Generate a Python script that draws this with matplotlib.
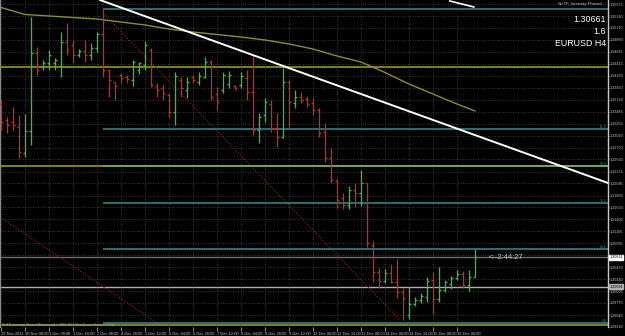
import matplotlib
matplotlib.use("Agg")
import matplotlib.pyplot as plt
import matplotlib.transforms as mtransforms
import numpy as np

plt.rcParams["font.family"] = ["Liberation Sans", "DejaVu Sans"]

# ---------------- data ----------------
time_labels = ["29 Nov 2011", "30 Nov 08:00", "1 Dec 00:00", "1 Dec 16:00", "2 Dec 08:00",
               "4 Dec 20:00", "5 Dec 12:00", "6 Dec 04:00", "6 Dec 20:00", "7 Dec 12:00",
               "8 Dec 04:00", "8 Dec 20:00", "9 Dec 12:00", "12 Dec 00:00", "12 Dec 16:00",
               "13 Dec 08:00", "14 Dec 00:00", "14 Dec 16:00", "15 Dec 08:00", "16 Dec 00:00"]

opens = [1.33635, 1.33325, 1.33286, 1.33189, 1.32685, 1.33112, 1.34625, 1.34353, 1.34431, 1.34431,
         1.34373, 1.34838, 1.34780, 1.34586, 1.34664, 1.34586, 1.34722, 1.34993, 1.34295, 1.34062,
         1.34198, 1.34159, 1.34101, 1.34295, 1.34392, 1.34683, 1.33985, 1.33946, 1.33810, 1.33480,
         1.34101, 1.33907, 1.34159, 1.34062, 1.34159, 1.34450, 1.33829, 1.33907, 1.34023, 1.33985,
         1.34004, 1.34140, 1.33868, 1.33131, 1.33422, 1.33635, 1.33170, 1.32995, 1.34062, 1.33655,
         1.33771, 1.33732, 1.33655, 1.33519, 1.33092, 1.32588, 1.32142, 1.31812, 1.31676, 1.31967,
         1.31909, 1.32103, 1.30900, 1.30377, 1.30202, 1.30357, 1.30182, 1.29988, 1.29542, 1.29756,
         1.29833, 1.29891, 1.30221, 1.29853, 1.30027, 1.30144, 1.30260, 1.30338, 1.30124, 1.30279]
highs = [1.33713, 1.33383, 1.33577, 1.33422, 1.33441, 1.35323, 1.34741, 1.34489, 1.34683, 1.34528,
         1.35032, 1.35207, 1.34877, 1.34702, 1.34877, 1.34819, 1.35032, 1.35478, 1.34295, 1.34062,
         1.34237, 1.34198, 1.34489, 1.34450, 1.34858, 1.34722, 1.34043, 1.34004, 1.33849, 1.34256,
         1.34159, 1.34159, 1.34198, 1.34256, 1.34547, 1.34489, 1.33965, 1.34256, 1.34276, 1.34004,
         1.34256, 1.34295, 1.34567, 1.33461, 1.33752, 1.33713, 1.33461, 1.34334, 1.34101, 1.33907,
         1.33868, 1.33791, 1.33752, 1.33558, 1.33267, 1.32782, 1.32181, 1.31909, 1.32045, 1.32103,
         1.32355, 1.32103, 1.30977, 1.30454, 1.30435, 1.30531, 1.30628, 1.30066, 1.30085, 1.29891,
         1.29969, 1.30279, 1.30377, 1.30473, 1.30221, 1.30299, 1.30415, 1.30396, 1.30415, 1.30822]
lows = [1.33131, 1.33073, 1.33131, 1.32588, 1.32607, 1.32840, 1.34198, 1.34295, 1.34295, 1.34295,
        1.34159, 1.34586, 1.34431, 1.34547, 1.34450, 1.34489, 1.34644, 1.34159, 1.33771, 1.33713,
        1.34043, 1.34043, 1.33985, 1.34217, 1.34295, 1.33965, 1.33771, 1.33713, 1.33383, 1.33228,
        1.33771, 1.33752, 1.34043, 1.34004, 1.34140, 1.33713, 1.33519, 1.33849, 1.33946, 1.33907,
        1.33946, 1.33713, 1.33034, 1.32879, 1.33286, 1.33092, 1.32801, 1.32976, 1.33170, 1.33558,
        1.33655, 1.33577, 1.33422, 1.32995, 1.32510, 1.32103, 1.31618, 1.31599, 1.31599, 1.31637,
        1.31657, 1.30861, 1.30182, 1.30066, 1.30163, 1.30163, 1.29872, 1.29445, 1.29465, 1.29717,
        1.29775, 1.29795, 1.29562, 1.29795, 1.29988, 1.30047, 1.30221, 1.30066, 1.30008, 1.30279]
closes = [1.33286, 1.33228, 1.33228, 1.32705, 1.33112, 1.34625, 1.34295, 1.34431, 1.34586, 1.34489,
          1.34838, 1.34683, 1.34586, 1.34664, 1.34586, 1.34722, 1.34993, 1.34295, 1.34101, 1.33985,
          1.34140, 1.34120, 1.34450, 1.34431, 1.34780, 1.34004, 1.33907, 1.33829, 1.33480, 1.34179,
          1.33946, 1.34062, 1.34101, 1.34179, 1.34450, 1.33771, 1.33674, 1.34198, 1.34198, 1.33946,
          1.34179, 1.33868, 1.33131, 1.33383, 1.33674, 1.33170, 1.32995, 1.34062, 1.33674, 1.33771,
          1.33713, 1.33635, 1.33519, 1.33073, 1.32588, 1.32161, 1.31773, 1.31676, 1.31967, 1.31909,
          1.32103, 1.30939, 1.30377, 1.30202, 1.30357, 1.30182, 1.29988, 1.29872, 1.29756, 1.29833,
          1.29911, 1.30202, 1.29853, 1.30027, 1.30182, 1.30260, 1.30338, 1.30124, 1.30279, 1.30661]

# moving average (read at selected bars)
ma_idx = [0, 4, 8, 12, 16, 20, 24, 28, 32, 36, 40, 44, 48, 52, 56, 60, 64, 68, 72, 76, 79]
ma_val = [1.35507, 1.35372, 1.35343, 1.35313, 1.35284, 1.35226, 1.35168, 1.35090, 1.35032, 1.34984,
          1.34935, 1.34877, 1.34800, 1.34702, 1.34567, 1.34450, 1.34247, 1.34023, 1.33829, 1.33635,
          1.33500]

# trend lines (bar index, price)
trend_x = [16.5, 101.17]
trend_y = [1.35653, 1.32103]
trend2_x = [74.8, 78.8]
trend2_y = [1.35634, 1.35518]
chan1_x = [17.0, 66.5]
chan1_y = [1.35401, 1.29445]
chan2_x = [-0.17, 26.0]
chan2_y = [1.31443, 1.29387]

# fibonacci retracement
fib_start = 17
fib_low, fib_high = 1.29393, 1.35478
fib_levels = [0.0, 23.6, 38.2, 50.0, 61.8, 100.0]

# horizontal levels
olive_levels = [1.34360, 1.32433, 1.29342]
bid_price = 1.30661
grey_level = 1.30091

price_ticks = [1.35575, 1.35340, 1.35110, 1.34880, 1.34645, 1.34415, 1.34180, 1.33950, 1.33720,
               1.33485, 1.33255, 1.33020, 1.32790, 1.32560, 1.32325, 1.32095, 1.31860, 1.31630,
               1.31400, 1.31165, 1.30935, 1.30705, 1.30470, 1.30240, 1.30005, 1.29775, 1.29540,
               1.29310]

# ---------------- figure ----------------
W, H = 625, 336
fig = plt.figure(figsize=(W / 100, H / 100), dpi=100, facecolor="black")
ax = fig.add_axes([0, 9 / H, 608 / W, 327 / H], facecolor="black")
n = len(opens)
idx = np.arange(n)
ax.set_xlim(-1 / 6, 607 / 6)
ax.set_ylim(1.29309, 1.35653)

# grid
ax.set_yticks(price_ticks)
ax.set_xticks(idx[::4])
ax.grid(True, color="#4e4e4e", linestyle=(0, (1, 2)), lw=0.6, zorder=0)

# olive horizontal lines
for lv in olive_levels:
    ax.axhline(lv, color="#a3a336", lw=1.1, zorder=1)

# fib lines
teal = "#3e8c8c"
for lv in fib_levels:
    p = fib_low + (fib_high - fib_low) * lv / 100.0
    col = "#6fae6f" if lv == 50.0 else teal
    ax.plot([fib_start, 101.2], [p, p], color=col, lw=1.1, zorder=1.5, solid_capstyle="butt")
    if 0 < lv < 100:
        ax.text(100.9, p, f"{lv:.1f}", color=teal, fontsize=2.5, ha="right", va="bottom", zorder=3)
ax.text(100.9, fib_low, "0.0", color=teal, fontsize=2.5, ha="right", va="bottom", zorder=3)

# bid and other grey line
ax.axhline(bid_price, color="#6e6e6e", lw=1.0, zorder=1.2)
ax.axhline(grey_level, color="#b0b0b0", lw=1.0, zorder=1.2)

# dotted red channel lines
ax.plot(chan1_x, chan1_y, color="#8a1c1c", lw=0.9, linestyle=(0, (1, 1.5)), zorder=1.3)
ax.plot(chan2_x, chan2_y, color="#8a1c1c", lw=0.9, linestyle=(0, (1, 1.5)), zorder=1.3)

# moving average
ax.plot(ma_idx, ma_val, color="#8c8c3c", lw=1.0, zorder=1.6)

# trend lines
ax.plot(trend_x, trend_y, color="white", lw=1.4, zorder=4)
ax.plot(trend2_x, trend2_y, color="white", lw=1.2, zorder=4)

# OHLC bars
o = np.array(opens); h = np.array(highs); l = np.array(lows); c = np.array(closes)
cols = np.where(c >= o, "#3cba3c", "#c42a2a")
ax.vlines(idx, l, h, colors=cols, lw=0.95, zorder=3)
ax.hlines(o, idx - 0.36, idx, colors=cols, lw=0.95, zorder=3)
ax.hlines(c, idx, idx + 0.36, colors=cols, lw=0.95, zorder=3)

# axes styling
for s in ["top", "bottom"]:
    ax.spines[s].set_visible(False)
ax.spines["left"].set_color("#8a8a8a")
ax.spines["right"].set_color("#c8c8c8")
ax.spines["right"].set_linewidth(1.0)
ax.yaxis.tick_right()
ylabels = ["" if abs(p - bid_price) < 0.0008 else f"{p:.5f}" for p in price_ticks]
ax.set_yticklabels(ylabels, fontsize=2.7, color="#c8c8c8")
ax.tick_params(axis="y", length=1.0, width=0.5, color="#c8c8c8", pad=0.3)
ax.set_xticklabels(time_labels, fontsize=2.9, color="#c8c8c8")
for t in ax.get_xticklabels():
    t.set_ha("left")
ax.tick_params(axis="x", length=3, width=0.5, color="#c8c8c8", pad=0.8)

# price boxes on the right axis
trans = mtransforms.blended_transform_factory(ax.transAxes, ax.transData)
ax.text(1.002, bid_price, f"{bid_price:.5f}", transform=trans, fontsize=2.7, color="black",
        va="center", ha="left", clip_on=False, zorder=6,
        bbox=dict(boxstyle="square,pad=0.1", fc="white", ec="white"))
ax.text(1.002, grey_level, f"{grey_level:.5f}", transform=trans, fontsize=2.7, color="black",
        va="center", ha="left", clip_on=False, zorder=6,
        bbox=dict(boxstyle="square,pad=0.1", fc="#b0b0b0", ec="#b0b0b0"))

# countdown text
ax.text(81.3, bid_price, "<--2:44:27", color="#c8c8c8", fontsize=5.4, va="center", ha="left", zorder=5)

# top-right info texts
fx = 606 / W
fig.text(fx - 0.006, 1 - 4 / H, "SL/TP_Intensity-Phased", color="#c8c8c8", fontsize=3.0,
         ha="right", va="center")
fig.text(fx, 1 - 20 / H, "1.30661", color="white", fontsize=6.4, ha="right", va="center")
fig.text(fx, 1 - 32 / H, "1.6", color="white", fontsize=6.4, ha="right", va="center")
fig.text(fx, 1 - 43 / H, "EURUSD H4", color="white", fontsize=6.4, ha="right", va="center")

# copyright note
fig.text(2 / W, 1 - 325.0 / H, "SL/TP_Intensity-Phased (Processed) \u00a9 2001-2011 MetaQuotes Software Corp.",
         color="#a0a0a0", fontsize=2.3, ha="left", va="center")

fig.savefig("out.png", dpi=100, facecolor="black")
